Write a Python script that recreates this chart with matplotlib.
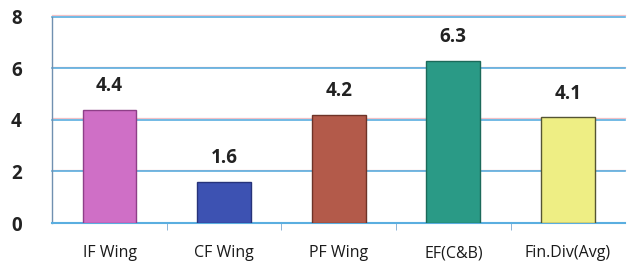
import matplotlib.pyplot as plt

categories = ["IF Wing", "CF Wing", "PF Wing", "EF(C&B)", "Fin.Div(Avg)"]
values = [4.4, 1.6, 4.2, 6.3, 4.1]
colors = ["#cf6fc6", "#3d52b2", "#b35a4a", "#2a9a86", "#eeee84"]
edges = ["#8e3f88", "#27337a", "#6e3328", "#1b6a5a", "#555533"]
yticks = [0, 2, 4, 6, 8]

fig = plt.figure(figsize=(6.29, 2.69), dpi=100)
ax = fig.add_axes([0.083, 0.171, 0.911, 0.766])

x = list(range(len(categories)))
bars = ax.bar(x, values, width=0.47, color=colors, edgecolor=edges, linewidth=1.0, zorder=3)

for xi, v in zip(x, values):
    ax.annotate(f"{v}", (xi, v), xytext=(0, 17), textcoords="offset points",
                ha="center", va="center", fontsize=13.5, fontweight="bold",
                color="#222222", family="Open Sans")

ax.set_xlim(-0.5, len(categories) - 0.5)
ax.set_ylim(0, 8)
ax.set_yticks(yticks)
ax.set_yticklabels([str(t) for t in yticks], fontsize=13.5, fontweight="bold",
                   family="Open Sans", color="#222222")
ax.tick_params(axis="y", length=0, pad=22)

# category labels in the middle, tick marks on the boundaries
ax.set_xticks(x)
ax.set_xticklabels(categories, fontsize=11.5, family="Open Sans", color="#1a1a1a")
ax.tick_params(axis="x", length=0, pad=16)
ax.set_xticks([i + 0.5 for i in x[:-1]], minor=True)
ax.tick_params(axis="x", which="minor", length=5, color="#7aa8d0", direction="out")

# blue gridlines with a faint pink line just above each
for t in yticks[1:]:
    ax.axhline(t + 0.07, color="#f2c0c6", linewidth=0.9, zorder=1, clip_on=False)
    ax.axhline(t, color="#5aaee0", linewidth=1.2, zorder=2, clip_on=False)

for s in ["top", "right"]:
    ax.spines[s].set_visible(False)
ax.spines["left"].set_color("#7090b0")
ax.spines["left"].set_linewidth(1.0)
ax.spines["bottom"].set_color("#5aaee0")
ax.spines["bottom"].set_linewidth(1.5)

fig.savefig("out.png", dpi=100)
